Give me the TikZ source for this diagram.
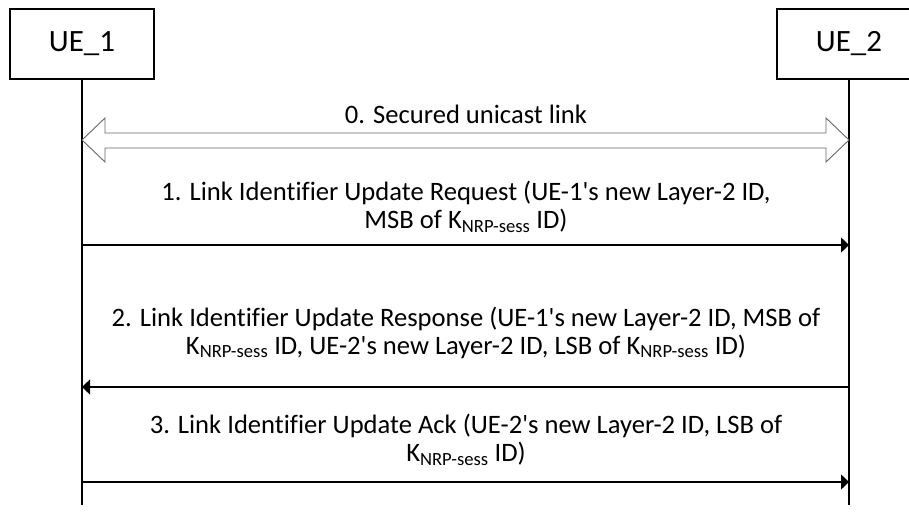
\documentclass[tikz,border=0pt]{standalone}
\usepackage{fontspec}
\setmainfont[Ligatures={TeX,NoCommon}]{Carlito}
\usetikzlibrary{arrows.meta,calc}
\newcommand{\Knrp}{K\textsubscript{NRP-sess}}
\newcommand{\q}{\textquotesingle}
\begin{document}
\begin{tikzpicture}[x=1pt,y=-1pt,
  actor/.style={draw, line width=1.6pt, minimum width=144pt, minimum height=70pt, inner sep=0pt, font=\fontsize{31}{36}\selectfont},
  life/.style={line width=1.6pt},
  msg/.style={line width=1.3pt, -{Triangle[length=8pt,width=15pt]}},
  fat/.style={draw=black!60, line width=0.9pt, line join=miter},
  lbl/.style={align=center, font=\fontsize{26.6}{28}\selectfont, inner sep=0pt}]
\useasboundingbox (0,0) rectangle (909,513);
\node[actor] (ue1) at (82,44) {UE\_1};
\node[actor] (ue2) at (849,44) {UE\_2};
\coordinate (e1) at (82,505);
\coordinate (e2) at (849,505);
\draw[life] (ue1.south) -- (e1);
\draw[life] (ue2.south) -- (e2);
% 0. secured unicast link (hollow double arrow)
\coordinate (l0) at (82,140);
\coordinate (r0) at (849,140);
\draw[fat] (l0) -- ++(23,-22) -- ++(0,15) -- ($(r0)+(-23,-7)$) -- ++(0,-15) -- (r0)
  -- ++(-23,22) -- ++(0,-14) -- ($(l0)+(23,8)$) -- ++(0,14) -- cycle;
\node[lbl, anchor=base] (t0) at (466,124) {0. Secured unicast link};
% 1.
\node[lbl] (t1) at (466,206.5) {1. Link Identifier Update Request (UE-1\q s new Layer-2 ID,\\MSB of \Knrp{} ID)};
\coordinate (m1a) at (82,245);
\coordinate (m1b) at (849,245);
\draw[msg] (m1a) -- (m1b);
% 2.
\node[lbl] (t2) at (466,332.5) {2. Link Identifier Update Response (UE-1\q s new Layer-2 ID, MSB of\\\Knrp{} ID, UE-2\q s new Layer-2 ID, LSB of \Knrp{} ID)};
\coordinate (m2a) at (82,387);
\coordinate (m2b) at (849,387);
\draw[msg] (m2b) -- (m2a);
% 3.
\node[lbl] (t3) at (466,439.5) {3. Link Identifier Update Ack (UE-2\q s new Layer-2 ID, LSB of\\\Knrp{} ID)};
\coordinate (m3a) at (82,482);
\coordinate (m3b) at (849,482);
\draw[msg] (m3a) -- (m3b);
\end{tikzpicture}
\end{document}
